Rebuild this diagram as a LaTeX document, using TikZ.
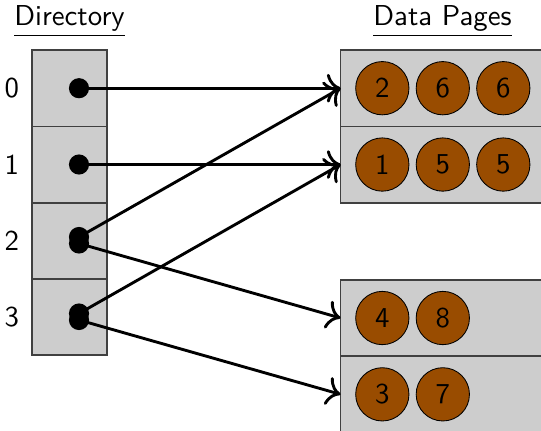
\documentclass[tikz,border=0pt]{standalone}
\usetikzlibrary{positioning,arrows.meta}
\definecolor{slotgray}{RGB}{205,205,205}
\definecolor{recbrown}{RGB}{153,76,0}
\tikzset{
  slot/.style={draw=black!75, fill=slotgray, line width=0.6pt, minimum width=26pt, minimum height=26.5pt, inner sep=0pt, outer sep=0pt},
  page/.style={slot, minimum width=76pt},
  rec/.style={circle, draw=black, fill=recbrown, line width=0.3pt, minimum size=18.5pt, inner sep=0pt},
  dot/.style={circle, fill=black, minimum size=7pt, inner sep=0pt},
  link/.style={-{To[scale=1.25]}, line width=1pt}
}
\begin{document}
\begin{tikzpicture}[x=0.3472pt, y=-0.3472pt, font=\sffamily]
    \useasboundingbox (0,0) rectangle (541,430);
    \clip (0,0) rectangle (541,430);

    % Headings
    \node (dirtitle) at (69.5,21) {\underline{Directory}};
    \node (pagetitle) at (442.5,21) {\underline{Data Pages}};

    % Directory slots with their numbers
    \node[slot] (s0) at (69.5,88.2) {};
    \node[slot, below=0pt of s0] (s1) {};
    \node[slot, below=0pt of s1] (s2) {};
    \node[slot, below=0pt of s2] (s3) {};
    \foreach \i in {0,...,3}
        \node[left=1pt of s\i] (n\i) {\i};

    % Data pages
    \node[page] (p0) at (450,88.2) {};
    \node[page, below=0pt of p0] (p1) {};
    \node[page] (p2) at (450,318) {};
    \node[page, below=0pt of p2] (p3) {};

    % Records on each page
    \foreach \p/\list in {0/{2,6,6},1/{1,5,5},2/{4,8},3/{3,7}}
        \foreach \v [count=\k from 0] in \list
            \node[rec] (r\p\k) at ([xshift=14.5pt+\k*21pt]p\p.west) {\v};

    % Pointers (slots 2 and 3 hold two each)
    \node[dot] (d0) at (79,88.2) {};
    \node[dot] (d1) at (79,164.5) {};
    \node[dot] (d2a) at (79,237) {};
    \node[dot] (d2b) at (79,243.5) {};
    \node[dot] (d3a) at (79,313.5) {};
    \node[dot] (d3b) at (79,320) {};

    \draw[link] (d0.center) -- (p0.west);
    \draw[link] (d1.center) -- (p1.west);
    \draw[link] (d2a.center) -- (p0.west);
    \draw[link] (d2b.center) -- (p2.west);
    \draw[link] (d3a.center) -- (p1.west);
    \draw[link] (d3b.center) -- (p3.west);
\end{tikzpicture}
\end{document}
